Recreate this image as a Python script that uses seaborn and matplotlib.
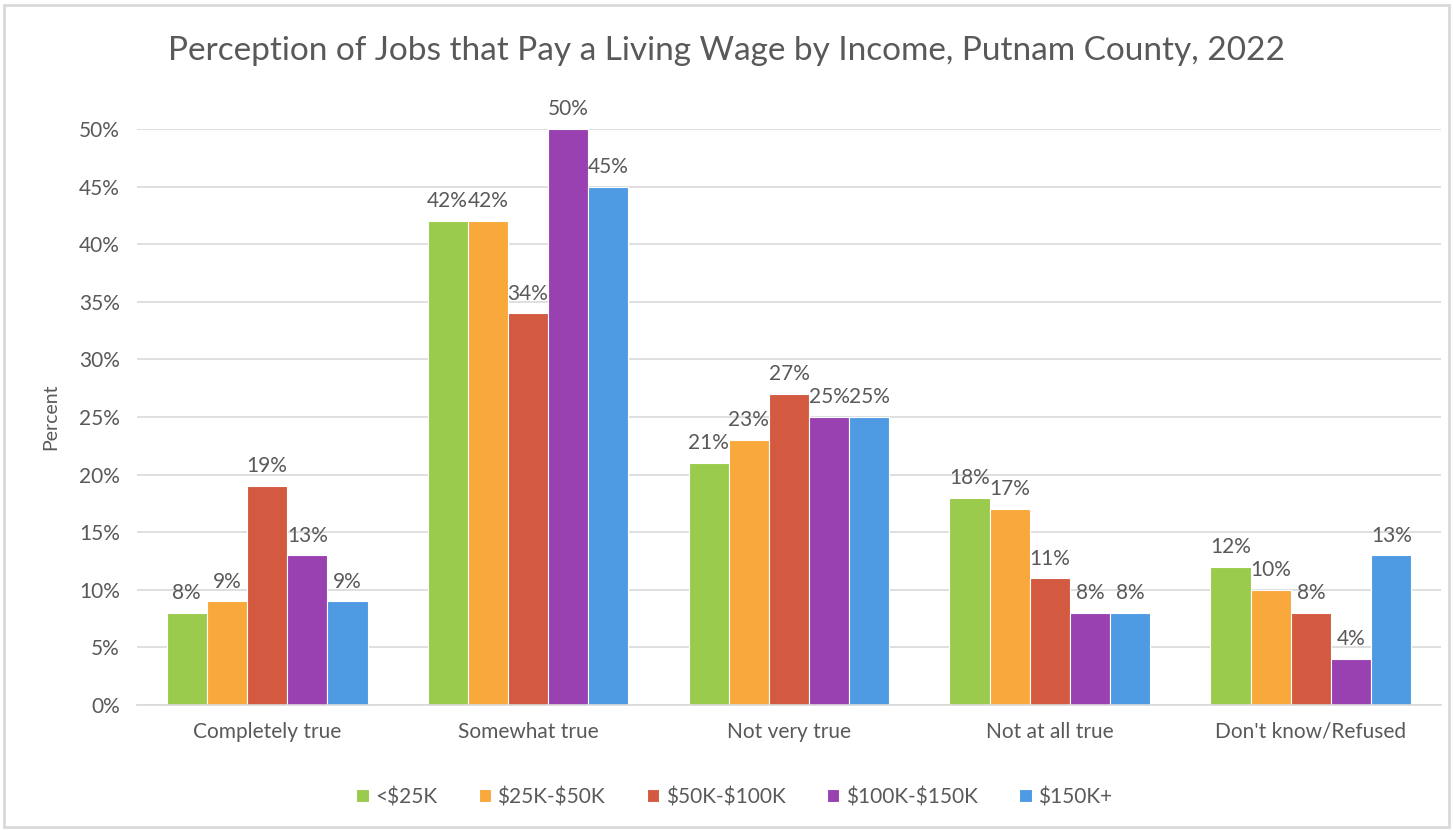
import matplotlib
matplotlib.use("Agg")
import matplotlib.pyplot as plt
from matplotlib.patches import Rectangle
from matplotlib.ticker import FuncFormatter
import pandas as pd
import seaborn as sns

categories = ["Completely true", "Somewhat true", "Not very true", "Not at all true", "Don't know/Refused"]
groups = ["<$25K", "$25K-$50K", "$50K-$100K", "$100K-$150K", "$150K+"]
under_25k = [8, 42, 21, 18, 12]
k25_50 = [9, 42, 23, 17, 10]
k50_100 = [19, 34, 27, 11, 8]
k100_150 = [13, 50, 25, 8, 4]
over_150k = [9, 45, 25, 8, 13]
colors = ["#9BCB4C", "#F9A83B", "#D35A40", "#9941B1", "#4E9BE3"]

series = [under_25k, k25_50, k50_100, k100_150, over_150k]
rows = []
for g, vals in zip(groups, series):
    for c, v in zip(categories, vals):
        rows.append({"category": c, "income": g, "pct": v})
df = pd.DataFrame(rows)

sns.set_style("white")
plt.rcParams["font.family"] = ["Lato", "DejaVu Sans"]
text_col = "#595959"

fig = plt.figure(figsize=(14.53, 8.30), dpi=100)
ax = fig.add_axes([0.094, 0.1506, 0.898, 0.694])

sns.barplot(data=df, x="category", y="pct", hue="income", palette=colors,
            order=categories, hue_order=groups, width=0.77, ax=ax,
            edgecolor="white", linewidth=0.8, saturation=1)

for cont in ax.containers:
    ax.bar_label(cont, labels=[f"{v:.0f}%" for v in cont.datavalues],
                 padding=7, fontsize=15, color=text_col)

ax.set_ylim(0, 50)
ax.set_xlim(-0.5, 4.5)
ax.set_yticks(range(0, 51, 5))
ax.yaxis.set_major_formatter(FuncFormatter(lambda v, p: f"{v:.0f}%"))
ax.grid(axis="y", color="#D9D9D9", linewidth=1.2)
ax.set_axisbelow(True)
for s in ["top", "right", "left"]:
    ax.spines[s].set_visible(False)
ax.spines["bottom"].set_color("#D9D9D9")
ax.spines["bottom"].set_linewidth(1.2)
ax.tick_params(axis="both", length=0, labelsize=15, colors=text_col, pad=12)
ax.set_xlabel("")
ax.set_ylabel("Percent", fontsize=14, color=text_col, labelpad=14)

fig.suptitle("Perception of Jobs that Pay a Living Wage by Income, Putnam County, 2022",
             y=0.957, fontsize=24, color=text_col)

handles, labels = ax.get_legend_handles_labels()
labels = [lab.replace("$", r"\$") for lab in labels]
ax.legend(handles, labels, loc="upper center", bbox_to_anchor=(0.458, -0.11), ncol=5,
          frameon=False, fontsize=15, labelcolor=text_col, handlelength=0.6,
          handleheight=0.6, columnspacing=2.0, handletextpad=0.3)

fig.add_artist(Rectangle((0.003, 0.004), 0.994, 0.99, transform=fig.transFigure,
                         fill=False, edgecolor="#D9D9D9", linewidth=2))

fig.savefig("out.png", dpi=100)
